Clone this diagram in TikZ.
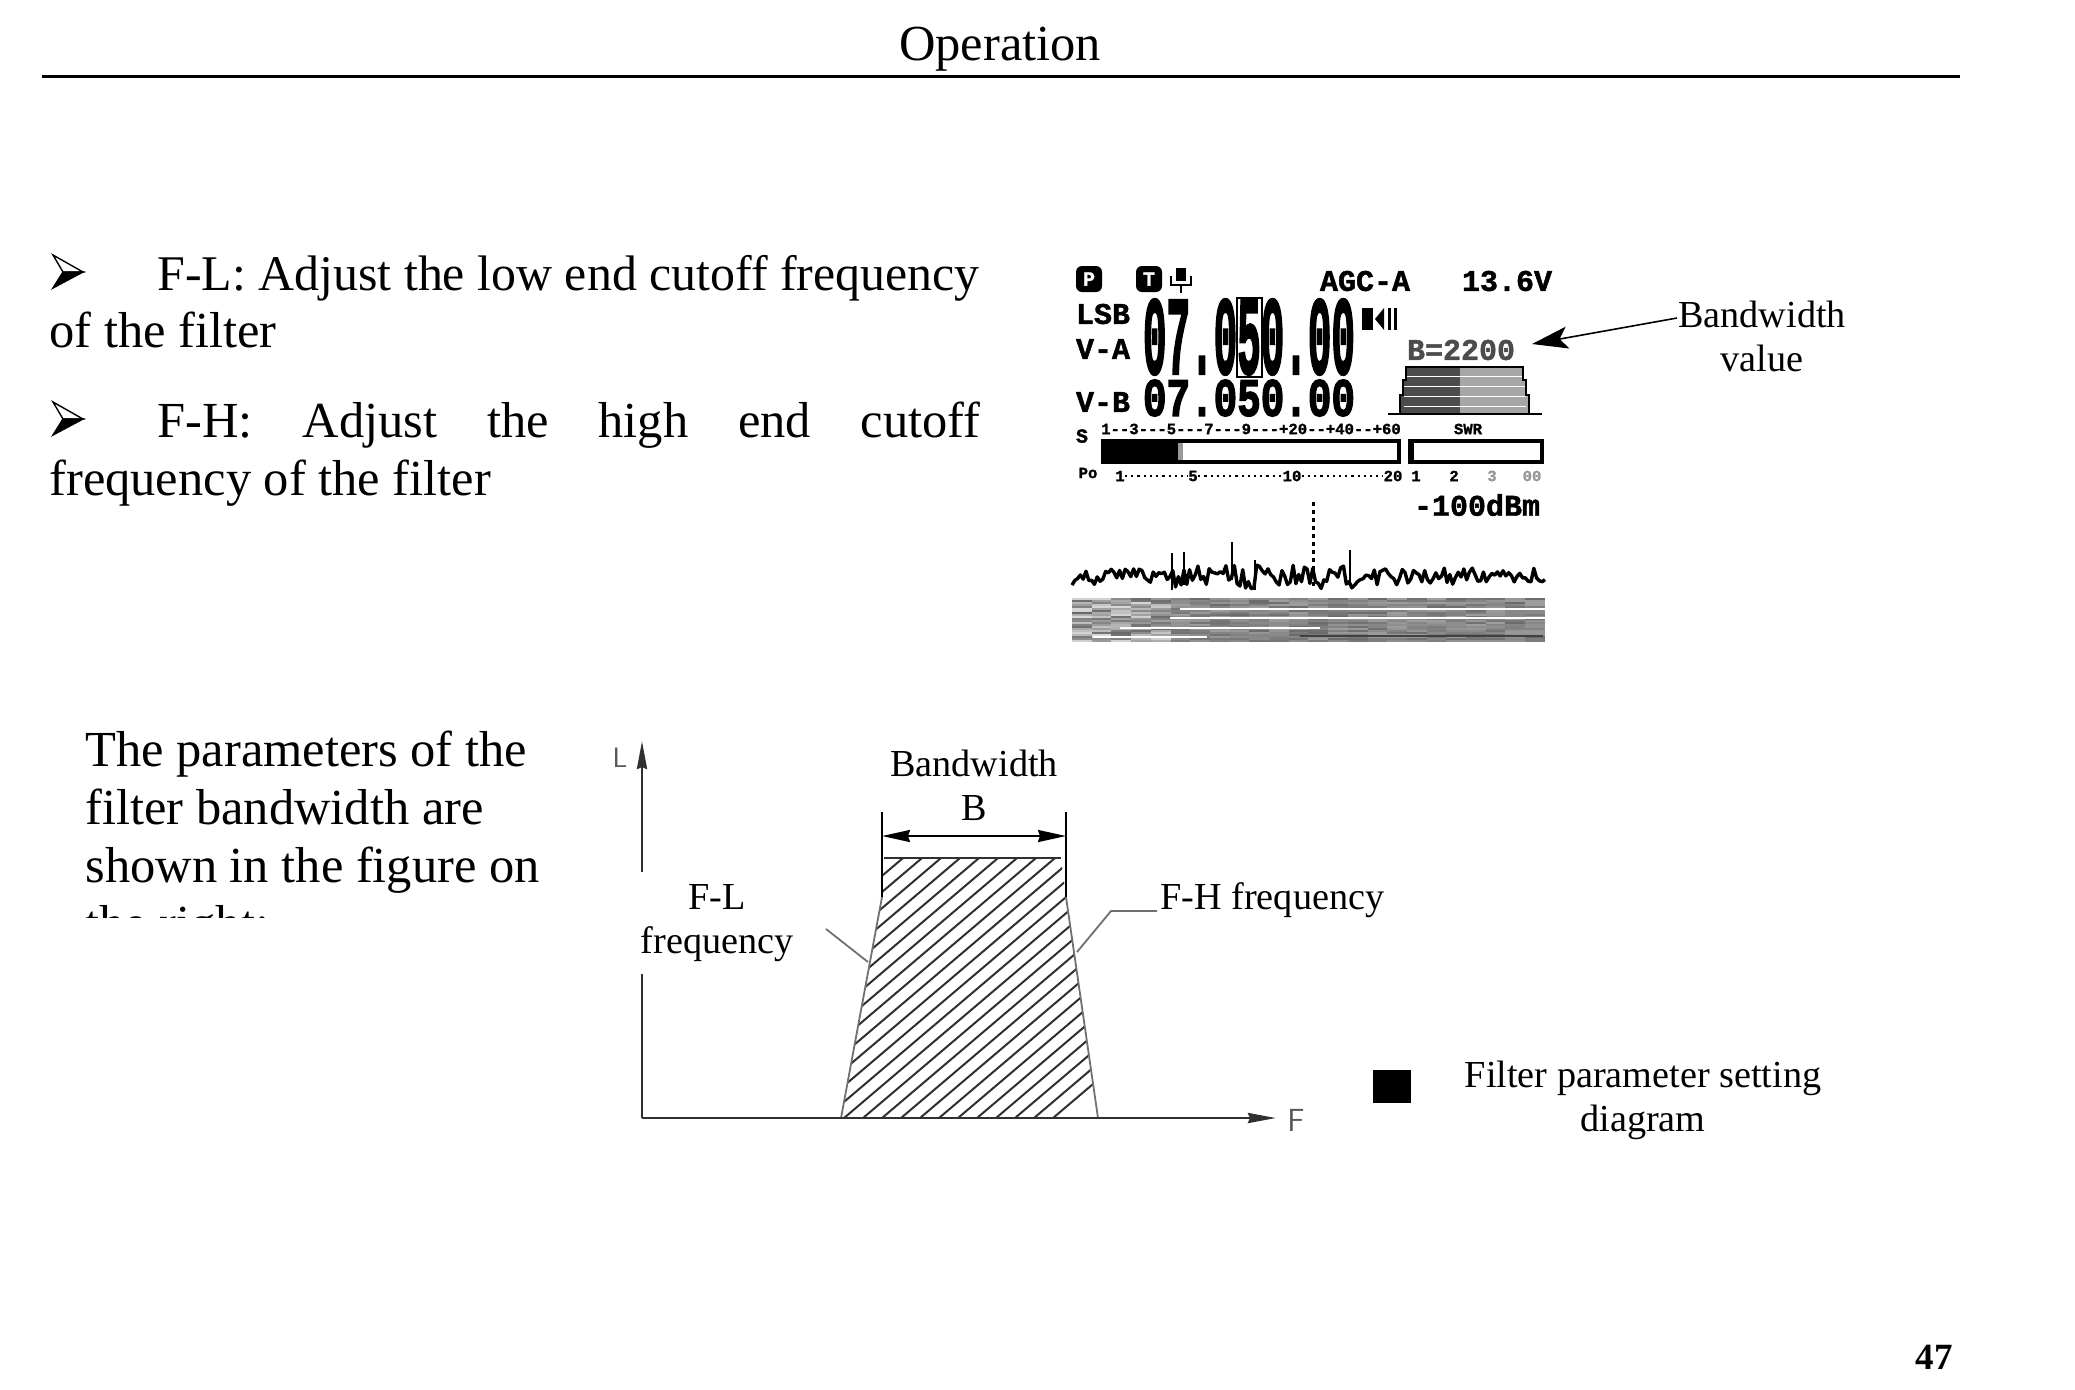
\documentclass[tikz,border=0pt]{standalone}
\usepackage{fontspec}
\usepackage{graphicx}
\setmainfont{Liberation Serif}
\newfontfamily\lcdfont[UprightFont=* Bold, FakeBold=1.5]{Liberation Mono}
\newfontfamily\lcdheavy[UprightFont=* Bold, FakeBold=3]{Liberation Mono}
\usetikzlibrary{arrows.meta}

\definecolor{axisgray}{HTML}{303030}
\definecolor{leadgray}{HTML}{707070}

\tikzset{
  bodyline/.style={anchor=base west, inner sep=0pt, font=\fontsize{25.25}{29}\selectfont},
  figlabel/.style={inner sep=0pt, align=center, font=\fontsize{19.1}{22}\selectfont},
  lcdlabel/.style={inner sep=0pt, font=\lcdfont\fontsize{15}{15}\selectfont},
  lcdsmall/.style={inner sep=0pt, font=\lcdfont\fontsize{7.8}{8}\selectfont},
  lcdbig/.style={inner sep=0pt, font=\lcdheavy},
  axisline/.style={draw=axisgray, line width=1.4pt},
  leadline/.style={draw=leadgray, line width=0.9pt},
  hatchline/.style={draw=axisgray, line width=1pt},
}

\newcommand{\markbullet}[2]{%
  \fill[white, draw=black, line width=0.7pt] (#1,#2-17) -- (#1+30,#2) -- (#1+10,#2) -- cycle;
  \fill[draw=black, line width=0.7pt] (#1,#2+16) -- (#1+30,#2) -- (#1+10,#2) -- cycle;
}

\begin{document}
\begin{tikzpicture}[x=0.5pt, y=-0.5pt]
  \useasboundingbox (0,0) rectangle (2075,1389);

  % page head
  \node[inner sep=0pt, anchor=base, font=\fontsize{25.25}{29}\selectfont] (head) at (1000,60) {Operation};
  \coordinate (ruleL) at (42,76);
  \coordinate (ruleR) at (1960,76);
  \draw[line width=1.5pt] (ruleL) -- (ruleR);

  % text at the left
  \markbullet{53}{272}
  \node[bodyline, font=\fontsize{24.95}{29}\selectfont] (lineLa) at (157,290) {F-L: Adjust the low end cutoff frequency};
  \node[bodyline] (lineLb) at (49,347) {of the filter};
  \markbullet{53}{419}
  \node[bodyline, text width=411.5pt] (lineHa) at (157,437) {F-H:\hfill Adjust\hfill the\hfill high\hfill end\hfill cutoff};
  \node[bodyline] (lineHb) at (49,495) {frequency of the filter};

  \begin{scope}
    \clip (60,700) rectangle (600,917);
    \node[bodyline] (paraA) at (85,766) {The parameters of the};
    \node[bodyline] (paraB) at (85,824) {filter bandwidth are};
    \node[bodyline] (paraC) at (85,882) {shown in the figure on};
    \node[bodyline] (paraD) at (85,940) {the right:};
  \end{scope}

  % radio screen, top row
  \node[fill=black, rounded corners=3pt, text=white, minimum size=13pt, inner sep=0pt, font=\lcdfont\fontsize{10}{10}\selectfont] (modeP) at (1089,279) {P};
  \node[fill=black, rounded corners=3pt, text=white, minimum size=13pt, inner sep=0pt, font=\lcdfont\fontsize{10}{10}\selectfont] (modeT) at (1149,279) {T};
  \fill (1176,268) rectangle (1186,281);
  \draw[line width=1.2pt] (1171,276) -- (1171,285) -- (1191,285) -- (1191,276);
  \draw[line width=1.2pt] (1181,285) -- (1181,293);
  \node[lcdlabel] (agc) at (1365,281) {AGC-A};
  \node[lcdlabel] (volt) at (1507,281) {13.6V};
  \node[lcdlabel] (lsb) at (1103,314) {LSB};
  \node[lcdlabel] (vfoA) at (1103,349) {V-A};
  \node[lcdlabel] (vfoB) at (1103,402) {V-B};

  % frequencies
  \node[lcdbig] (freqA) at (1249,337) {\resizebox{106pt}{37pt}{07.050.00}};
  \node[lcdbig] (freqB) at (1249,398) {\resizebox{106pt}{18pt}{07.050.00}};
  \draw[line width=1pt] (1237,298) rectangle (1262,377);
  \fill (1362,308) rectangle (1373,330);
  \fill (1375,319) -- (1384,308) -- (1384,330) -- cycle;
  \fill (1388,308) rectangle (1391,330);
  \fill (1394,308) rectangle (1397,330);

  % filter shape
  \node[lcdlabel, text=black!70] (bandval) at (1461,350) {B=2200};
  \fill[black!70] (1406,367) -- (1460,367) -- (1460,413) -- (1400,413) -- (1400,395) -- (1403,395) -- (1403,380) -- (1406,380) -- cycle;
  \fill[black!35] (1460,367) -- (1523,367) -- (1523,380) -- (1526,380) -- (1526,395) -- (1529,395) -- (1529,413) -- (1460,413) -- cycle;
  \foreach \yy in {376,386,396,406}
    \draw[white, line width=0.35pt] (1404,\yy) -- (1526,\yy);
  \draw[line width=0.9pt] (1400,413) -- (1400,395) -- (1403,395) -- (1403,380) -- (1406,380) -- (1406,367) -- (1523,367) -- (1523,380) -- (1526,380) -- (1526,395) -- (1529,395) -- (1529,413);
  \draw[line width=1pt] (1388,414) -- (1542,414);

  % meters
  \node[lcdsmall] (sscale) at (1251,429) {1--3---5---7---9---+20--+40--+60};
  \node[lcdsmall] (swr) at (1468,429) {SWR};
  \node[lcdsmall, font=\lcdfont\fontsize{10}{10}\selectfont] (smark) at (1082,436) {S};
  \fill (1101,439) rectangle (1178,464);
  \draw[line width=2pt] (1103,441) rectangle (1399,462);
  \draw[line width=2pt] (1410,441) rectangle (1542,462);
  \fill (1408,439) rectangle (1414,464);
  \fill[black!40] (1178,443) rectangle (1183,460);
  \node[lcdsmall] (po) at (1088,473) {Po};
  \node[lcdsmall] (poA) at (1120,476) {1};
  \node[lcdsmall] (poB) at (1193,476) {5};
  \node[lcdsmall] (poC) at (1292,476) {10};
  \node[lcdsmall] (poD) at (1393,476) {20};
  \draw[dotted, line width=1.1pt] (poA) -- (poB);
  \draw[dotted, line width=1.1pt] (poB) -- (poC);
  \draw[dotted, line width=1.1pt] (poC) -- (poD);
  \node[lcdsmall] (swrA) at (1416,476) {1};
  \node[lcdsmall] (swrB) at (1454,476) {2};
  \node[lcdsmall, text=black!40] (swrC) at (1492,476) {3};
  \node[lcdsmall, text=black!40] (swrD) at (1532,476) {00};
  \node[lcdlabel] (level) at (1477,505) {-100dBm};

  % spectrum
  \pgfmathsetseed{11}
  \draw[line width=1.7pt, line join=round] plot[domain=1072:1545, samples=170]
    (\x,{577+(rnd-.5)*(\x>1170 && \x<1370 ? 24 : 18)});
  \foreach \xx/\ya/\yb in {1172/553/590,1184/552/585,1232/542/580,1255/560/590,1350/550/585}
    \draw[line width=1.3pt] (\xx,\ya) -- (\xx,\yb);
  \draw[line width=1.5pt, dash pattern=on 2pt off 2pt] (1313,502) -- (1313,587);

  % waterfall
  \foreach \row in {0,...,21}
    \foreach \col in {0,...,23} {
      \pgfmathsetmacro{\shade}{(\col<5 ? 15+rnd*45 : 38+rnd*20)}
      \fill[black!\shade!white] ({1072+\col*19.7},{598+\row*2}) rectangle +(19.7,2);
    }
  \draw[white, line width=0.7pt] (1180,609) -- (1545,609);
  \draw[white, line width=0.7pt] (1170,618) -- (1545,618);
  \draw[white, line width=0.7pt] (1120,628) -- (1320,628);
  \draw[white, line width=0.7pt] (1093,637) -- (1207,637);
  \draw[black!75, line width=0.8pt] (1300,636) -- (1543,636);

  % bandwidth value
  \node[figlabel] (bandlabel) at (1762,336) {Bandwidth\\value};
  \coordinate (bandtail) at (1677,318);
  \coordinate (bandtip) at (1532,344);
  \draw[-{Stealth[length=18pt, width=11pt, inset=4pt]}, line width=0.8pt] (bandtail) -- (bandtip);

  % filter parameter figure
  \coordinate (origin) at (642,1118);
  \coordinate (ytip) at (642,741);
  \coordinate (xtip) at (1276,1118);
  \coordinate (topL) at (884,858);
  \coordinate (topR) at (1061,858);
  \coordinate (sideL) at (882,897);
  \coordinate (sideR) at (1066,897);
  \coordinate (footL) at (841,1118);
  \coordinate (footR) at (1098,1118);
  \begin{scope}
    \clip (topL) -- (topR) -- (sideR) -- (footR) -- (footL) -- (sideL) -- cycle;
    \foreach \xx in {0,...,27}
      \draw[hatchline] ({540+\xx*19},1118) -- ({846+\xx*19},858);
  \end{scope}
  \draw[leadline] (sideL) -- (footL);
  \draw[leadline] (sideR) -- (footR);
  \draw[axisline, line width=1.1pt] (topL) -- (topR);
  \draw[axisline, -{Stealth[length=14pt, width=5pt, inset=1pt]}] (origin) -- (ytip);
  \draw[axisline, -{Stealth[length=14pt, width=5pt, inset=1pt]}] (origin) -- (xtip);
  \node[inner sep=0pt, text=black!65, font=\sffamily\fontsize{14}{14}\selectfont] (axisL) at (620,758) {L};
  \node[inner sep=0pt, text=black!65, font=\sffamily\fontsize{16}{16}\selectfont] (axisF) at (1296,1120) {F};

  \coordinate (dimL) at (882,836);
  \coordinate (dimR) at (1066,836);
  \coordinate (dimLtop) at (882,812);
  \coordinate (dimRtop) at (1066,812);
  \draw[line width=0.8pt] (dimLtop) -- (sideL);
  \draw[line width=0.8pt] (dimRtop) -- (sideR);
  \draw[{Stealth[length=14pt, width=6pt, inset=1pt]}-{Stealth[length=14pt, width=6pt, inset=1pt]}, line width=1pt] (dimL) -- (dimR);
  \node[figlabel] (bandB) at (974,785) {Bandwidth\\B};

  \node[figlabel, fill=white, minimum width=85pt, minimum height=51pt] (labelFL) at (717,923) {F-L\\frequency};
  \node[figlabel, anchor=base west] (labelFH) at (1160,909) {F-H frequency};
  \coordinate (leadLa) at (826,929);
  \coordinate (leadLb) at (868,962);
  \coordinate (leadHa) at (1077,952);
  \coordinate (leadHb) at (1111,911);
  \coordinate (leadHc) at (1157,911);
  \draw[leadline] (leadLa) -- (leadLb);
  \draw[leadline] (leadHa) -- (leadHb) -- (leadHc);

  % caption
  \node[fill=black, minimum width=19pt, minimum height=16.5pt, inner sep=0pt] (capmark) at (1392,1086) {};
  \node[figlabel] (caption) at (1643,1100) {Filter parameter setting\\diagram};

  % page number
  \node[inner sep=0pt, anchor=base east, font=\bfseries\fontsize{18.5}{20}\selectfont] (pagenum) at (1953,1369) {47};
\end{tikzpicture}
\end{document}
